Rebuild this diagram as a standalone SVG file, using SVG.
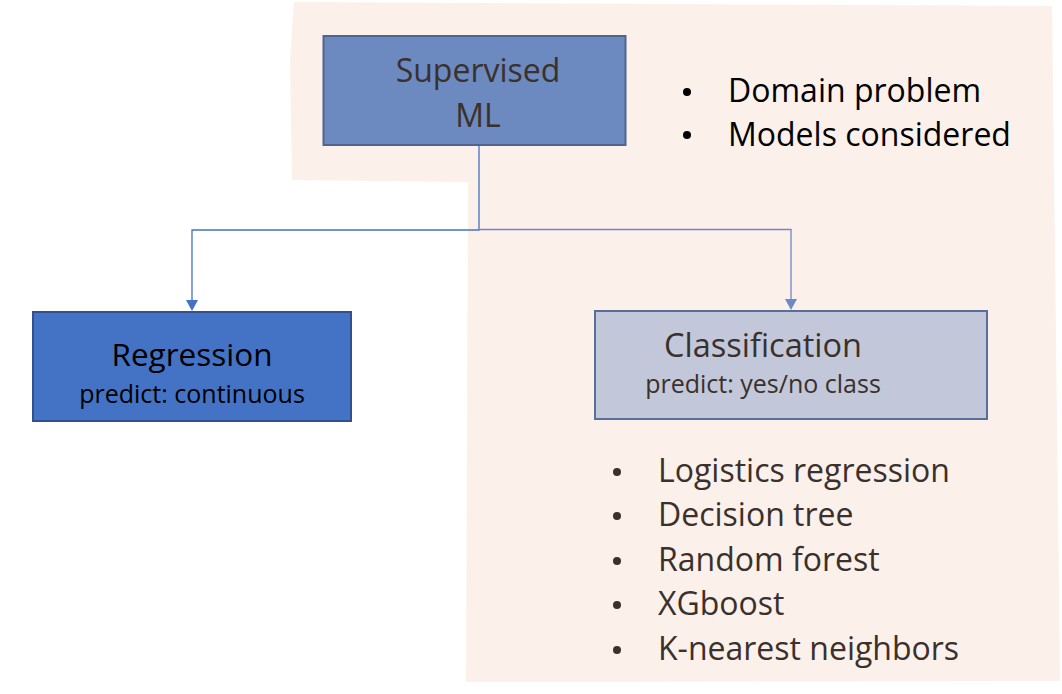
<svg xmlns="http://www.w3.org/2000/svg" width="1062" height="694" viewBox="0 0 1062 694">
<style>
.t{font-family:"Open Sans","Liberation Sans",sans-serif;}
.dk{fill:#3A302C;}
.bk{fill:#000;}
.c1{fill:none;stroke:#4472C4;stroke-width:1.3;}
.c2{fill:none;stroke:#7189C2;stroke-width:1.3;}
.li{font-size:32px;}
</style>
<rect width="1062" height="694" fill="#fff"/>
<path id="bg" d="M294,2 L1052,6 L1055,250 L1060,681 L466,682 L468,182 L292,180 L290,60 Z" fill="#FCF0EB"/>
<g id="connectors">
<path class="c1" d="M479,146 L479,230 L192,230 L192,300"/>
<path d="M186,300 L198,300 L192,311 Z" fill="#4472C4"/>
<path class="c2" d="M479,229.5 L791,229.5 L791,299"/>
<path d="M785,299 L797,299 L791,310 Z" fill="#7189C2"/>
</g>
<g id="supervised">
<rect x="323.5" y="36" width="302" height="109" fill="#6C8ABF" stroke="#4F6490" stroke-width="2"/>
<text class="t dk" x="478" y="82" font-size="32" text-anchor="middle">Supervised</text>
<text class="t dk" x="478" y="127" font-size="32" text-anchor="middle">ML</text>
</g>
<g id="notes">
<circle cx="687" cy="92" r="4" fill="#000"/>
<circle cx="687" cy="135" r="4" fill="#000"/>
<text class="t bk" x="728" y="102" font-size="32">Domain problem</text>
<text class="t bk" x="728" y="146" font-size="32">Models considered</text>
</g>
<g id="regression">
<rect x="33" y="312" width="318" height="109" fill="#4472C4" stroke="#2F528F" stroke-width="2"/>
<text class="t bk" x="192" y="366" font-size="31.5" text-anchor="middle">Regression</text>
<text class="t bk" x="192" y="403" font-size="25" text-anchor="middle">predict: continuous</text>
</g>
<g id="classification">
<rect x="595" y="311" width="392" height="108" fill="#C2C7DA" stroke="#5A6E9B" stroke-width="2"/>
<text class="t dk" x="763" y="357" font-size="32.5" text-anchor="middle">Classification</text>
<text class="t dk" x="763" y="393" font-size="25" text-anchor="middle">predict: yes/no class</text>
</g>
<g id="models">
<circle cx="617" cy="472" r="4" fill="#3A302C"/>
<circle cx="617" cy="516" r="4" fill="#3A302C"/>
<circle cx="617" cy="561" r="4" fill="#3A302C"/>
<circle cx="617" cy="605" r="4" fill="#3A302C"/>
<circle cx="617" cy="650" r="4" fill="#3A302C"/>
<text class="t dk li" x="658" y="482">Logistics regression</text>
<text class="t dk li" x="658" y="526">Decision tree</text>
<text class="t dk li" x="658" y="571">Random forest</text>
<text class="t dk li" x="658" y="615">XGboost</text>
<text class="t dk li" x="658" y="660">K-nearest neighbors</text>
</g>
</svg>
